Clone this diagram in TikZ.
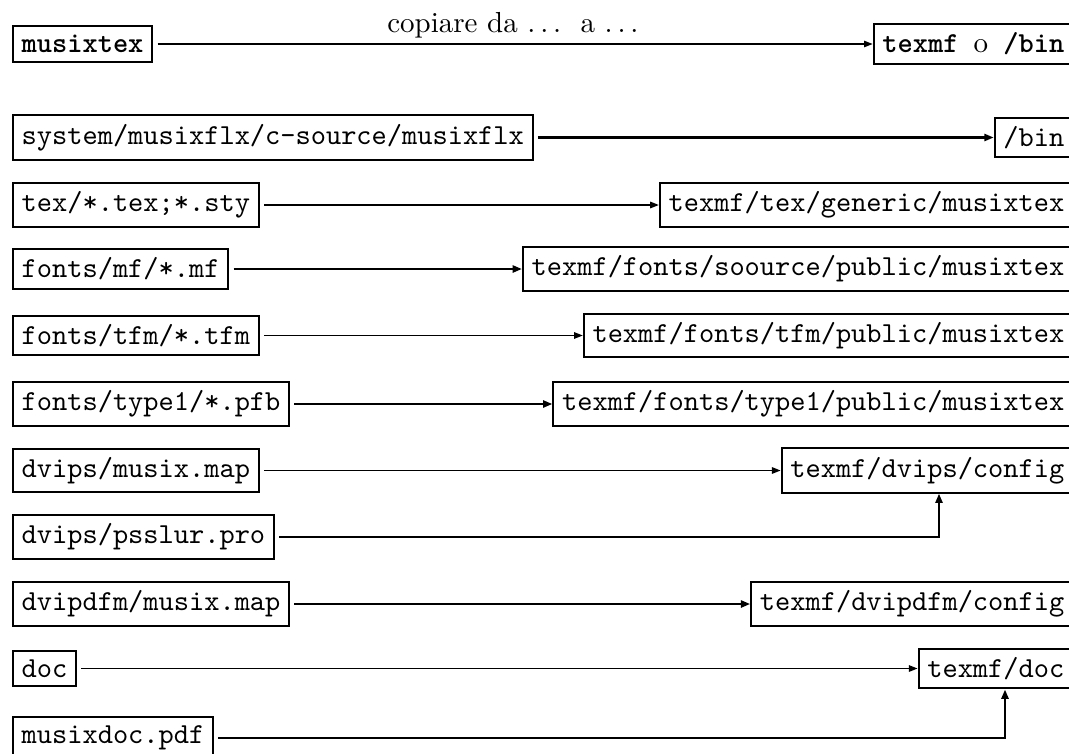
\documentclass[tikz,border=0pt]{standalone}
\usetikzlibrary{arrows.meta}
\begin{document}
\begin{tikzpicture}[x=0.345pt, y=-0.345pt,
  pbox/.style={draw, line width=0.7pt, inner sep=3pt, font=\ttfamily},
  lbox/.style={pbox, anchor=west},
  rbox/.style={pbox, anchor=east},
  thinarr/.style={line width=0.55pt, shorten <=1.5pt, -{Triangle[length=3pt,width=2.2pt]}},
  thickarr/.style={line width=0.9pt, shorten <=1.5pt, -{Triangle[length=3.2pt,width=2.4pt]}}]
\useasboundingbox (0,0) rectangle (1069,754);
\clip (0,0) rectangle (1069,754);
% left column
\node[lbox] (mtex)  at (12,44)    {\textbf{musixtex}};
\node[lbox] (sys)   at (12,137.5) {system/musixflx/c-source/musixflx};
\node[lbox] (tex)   at (12,205)   {tex/*.tex;*.sty};
\node[lbox] (mf)    at (12,269)   {fonts/mf/*.mf};
\node[lbox] (tfm)   at (12,335.5) {fonts/tfm/*.tfm};
\node[lbox] (pfb)   at (12,404)   {fonts/type1/*.pfb};
\node[lbox] (dmap)  at (12,470.5) {dvips/musix.map};
\node[lbox] (pro)   at (12,537)   {dvips/psslur.pro};
\node[lbox] (pmap)  at (12,604)   {dvipdfm/musix.map};
\node[lbox] (doc)   at (12,668.5) {doc};
\node[lbox] (mdoc)  at (12,738)   {musixdoc.pdf};
% right column
\node[rbox] (dest)  at (1074,44)    {\textbf{texmf} {\rmfamily o} \textbf{/bin}};
\node[rbox] (bin)   at (1074,137.5) {/bin};
\node[rbox] (gen)   at (1074,205)   {texmf/tex/generic/musixtex};
\node[rbox] (src)   at (1074,269)   {texmf/fonts/soource/public/musixtex};
\node[rbox] (ttfm)  at (1074,335.5) {texmf/fonts/tfm/public/musixtex};
\node[rbox] (tt1)   at (1074,404)   {texmf/fonts/type1/public/musixtex};
\node[rbox] (dcfg)  at (1074,470.5) {texmf/dvips/config};
\node[rbox] (pcfg)  at (1074,604)   {texmf/dvipdfm/config};
\node[rbox] (tdoc)  at (1074,668.5) {texmf/doc};
% connectors
\draw[thinarr] (mtex.east) -- (dest.west)
  node[midway, anchor=base, yshift=3.8pt, font=\rmfamily] {copiare da $\ldots$\ \ a $\ldots$};
\draw[thickarr] (sys.east) -- (bin.west);
\draw[thinarr] (tex.east) -- (gen.west);
\draw[thickarr] (mf.east) -- (src.west);
\draw[thinarr] (tfm.east) -- (ttfm.west);
\draw[thickarr] (pfb.east) -- (tt1.west);
\draw[thinarr] (dmap.east) -- (dcfg.west);
\draw[thickarr] (pro.east) -| (939,0 |- dcfg.south);
\draw[thickarr] (pmap.east) -- (pcfg.west);
\draw[thinarr] (doc.east) -- (tdoc.west);
\draw[thickarr] (mdoc.east) -| (1005,0 |- tdoc.south);
\end{tikzpicture}
\end{document}
